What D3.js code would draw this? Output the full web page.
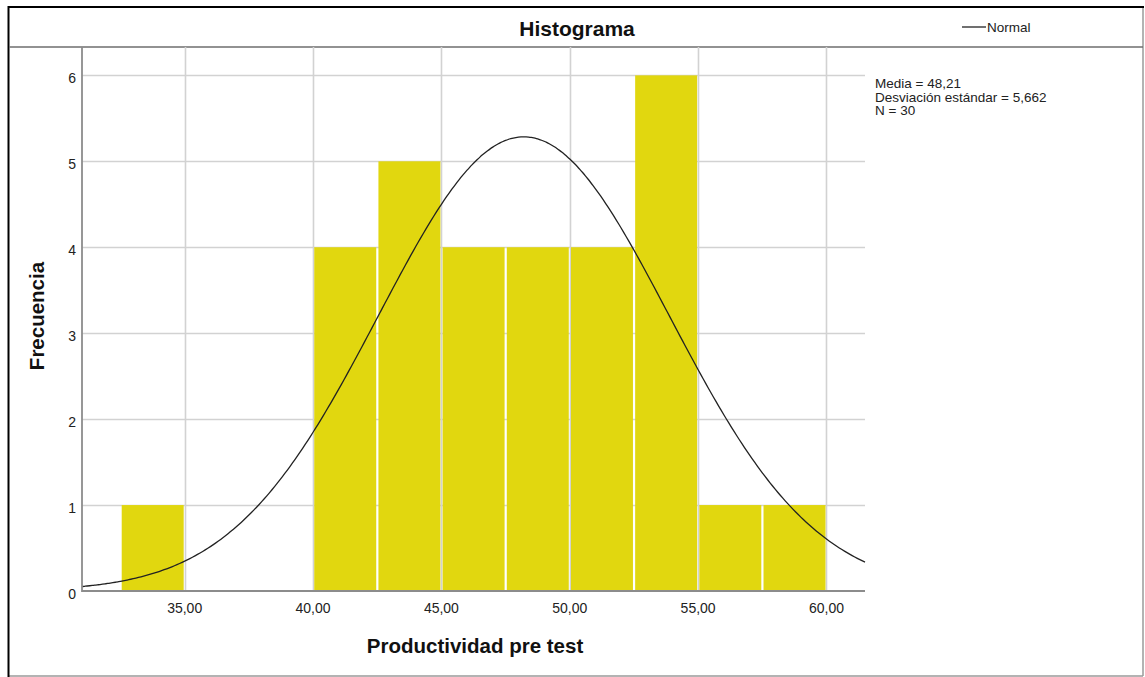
<!DOCTYPE html>
<html>
<head>
<meta charset="utf-8">
<script src="https://cdn.jsdelivr.net/npm/d3@7"></script>
<style>
  html, body { margin: 0; padding: 0; background: #fff; }
  svg { display: block; font-family: "Liberation Sans", Arial, sans-serif; }
</style>
</head>
<body>
<svg id="chart" width="1145" height="677"></svg>
<script>
// ---- Data ----
const binStarts = [32.5, 40, 42.5, 45, 47.5, 50, 52.5, 55, 57.5];
const binEnds   = [35, 42.5, 45, 47.5, 50, 52.5, 55, 57.5, 60];
const counts    = [1, 4, 5, 4, 4, 4, 6, 1, 1];
const xTicks    = [35, 40, 45, 50, 55, 60];
const yTicks    = [0, 1, 2, 3, 4, 5, 6];
const statLines = ["Media = 48,21", "Desviación estándar = 5,662", "N = 30"];
const mean = 48.21, sd = 5.662, n = 30, binWidth = 2.5;

// ---- Layout ----
const svg = d3.select("#chart");
const plot = { left: 82, right: 865, top: 47, bottom: 591 };

const x = d3.scaleLinear().domain([31, 61.5]).range([plot.left, plot.right]);
const y = d3.scaleLinear().domain([0, 6.33]).range([plot.bottom, plot.top]);

// Frame
svg.append("rect").attr("x", 0).attr("y", 0).attr("width", 1145).attr("height", 677).attr("fill", "#fff");
svg.append("line").attr("x1", 1143).attr("x2", 1143).attr("y1", 7).attr("y2", 676).attr("stroke", "#9a9a9a").attr("stroke-width", 1.5);
svg.append("line").attr("x1", 8).attr("x2", 1143).attr("y1", 676).attr("y2", 676).attr("stroke", "#9a9a9a").attr("stroke-width", 1.5);
svg.append("line").attr("x1", 8.5).attr("x2", 8.5).attr("y1", 6).attr("y2", 677).attr("stroke", "#000").attr("stroke-width", 2);
svg.append("line").attr("x1", 8).attr("x2", 1144).attr("y1", 7).attr("y2", 7).attr("stroke", "#000").attr("stroke-width", 2);
svg.append("line").attr("x1", 9).attr("x2", 1143).attr("y1", 47).attr("y2", 47).attr("stroke", "#6e6e6e").attr("stroke-width", 1.5);

// Gridlines
const grid = svg.append("g");
grid.selectAll("line.h").data(yTicks.filter(d => d > 0)).join("line")
  .attr("x1", plot.left).attr("x2", plot.right)
  .attr("y1", d => Math.round(y(d)) + 0.5).attr("y2", d => Math.round(y(d)) + 0.5)
  .attr("stroke", "#d2d2d2").attr("stroke-width", 1.6);
grid.selectAll("line.v").data(xTicks).join("line")
  .attr("x1", d => Math.round(x(d)) + 0.5).attr("x2", d => Math.round(x(d)) + 0.5)
  .attr("y1", plot.top).attr("y2", plot.bottom)
  .attr("stroke", "#d2d2d2").attr("stroke-width", 1.6);

// Bars
const bins = counts.map((c, i) => ({ x0: binStarts[i], x1: binEnds[i], c }));
svg.append("g").selectAll("rect").data(bins).join("rect")
  .attr("x", d => x(d.x0) + 1.2)
  .attr("width", d => x(d.x1) - x(d.x0) - 2.2)
  .attr("y", d => y(d.c))
  .attr("height", d => y(0) - y(d.c))
  .attr("fill", "#e1d70f");

// Normal curve (from the stated mean, sd and N)
const curveX = d3.range(31, 61.5001, 0.1);
const pdf = v => n * binWidth * Math.exp(-0.5 * ((v - mean) / sd) ** 2) / (sd * Math.sqrt(2 * Math.PI));
svg.append("path")
  .datum(curveX)
  .attr("d", d3.line().x(d => x(d)).y(d => y(pdf(d))).curve(d3.curveBasis))
  .attr("fill", "none").attr("stroke", "#222").attr("stroke-width", 1.3);

// Axes lines
svg.append("line").attr("x1", plot.left).attr("x2", plot.left).attr("y1", plot.top).attr("y2", plot.bottom + 1)
  .attr("stroke", "#8c8c8c").attr("stroke-width", 1.8);
svg.append("line").attr("x1", plot.left).attr("x2", plot.right).attr("y1", plot.bottom).attr("y2", plot.bottom)
  .attr("stroke", "#8c8c8c").attr("stroke-width", 1.8);

// Tick labels
const fmt = v => v.toFixed(2).replace(".", ",");
svg.append("g").selectAll("text").data(yTicks).join("text")
  .attr("x", 76).attr("y", d => y(d) + 8)
  .attr("text-anchor", "end").attr("font-size", 14).attr("fill", "#222")
  .text(d => d);
svg.append("g").selectAll("text").data(xTicks).join("text")
  .attr("x", d => x(d)).attr("y", 613)
  .attr("text-anchor", "middle").attr("font-size", 14).attr("fill", "#222")
  .text(fmt);

// Titles
svg.append("text").attr("x", 577).attr("y", 36).attr("text-anchor", "middle")
  .attr("font-size", 21).attr("font-weight", "bold").attr("fill", "#111").text("Histograma");
svg.append("text").attr("x", 475).attr("y", 653).attr("text-anchor", "middle")
  .attr("font-size", 20.5).attr("font-weight", "bold").attr("fill", "#111").text("Productividad pre test");
svg.append("text").attr("transform", "translate(44,316) rotate(-90)").attr("text-anchor", "middle")
  .attr("font-size", 20.5).attr("font-weight", "bold").attr("fill", "#111").text("Frecuencia");

// Legend
svg.append("line").attr("x1", 962).attr("x2", 986).attr("y1", 27).attr("y2", 27).attr("stroke", "#222").attr("stroke-width", 1.3);
svg.append("text").attr("x", 987).attr("y", 32).attr("font-size", 13.5).attr("fill", "#222").text("Normal");

// Stats
svg.append("g").selectAll("text").data(statLines).join("text")
  .attr("x", 875).attr("y", (d, i) => 88 + i * 13.5)
  .attr("font-size", 13.5).attr("fill", "#222")
  .text(d => d);
</script>
</body>
</html>
